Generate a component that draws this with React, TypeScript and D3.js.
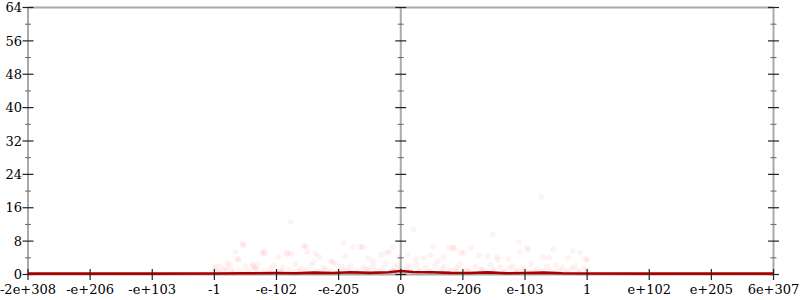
import React from "react";
import * as d3 from "d3";

// x positions are in "tick units" along the ordinal float axis (0 = -2e+308, 6 = 0, 12 = 6e+307)
const xTickLabels = ["-2e+308", "-e+206", "-e+103", "-1", "-e-102", "-e-205", "0", "e-206", "e-103", "1", "e+102", "e+205", "6e+307"];
const yMajorTicks = [0, 8, 16, 24, 32, 40, 48, 56, 64];
const yMinorTicks = [4, 12, 20, 28, 36, 44, 52, 60];

// scattered sample errors (bits)
const scatterX = [
  3.02, 3.21, 3.34, 3.37, 3.39, 3.45, 3.47, 3.61, 3.63, 3.77, 3.79, 3.82, 4.03, 4.16, 4.18, 4.23, 4.24, 4.44, 4.47, 4.5,
  4.6, 4.63, 4.69, 4.87, 4.9, 5.08, 5.11, 5.23, 5.35, 5.39, 5.48, 5.56, 5.68, 5.76, 5.81, 5.87, 5.97,
  6.11, 6.21, 6.24, 6.37, 6.48, 6.52, 6.6, 6.69, 6.77, 6.84, 6.86, 6.97, 7.02, 7.13, 7.26, 7.4, 7.48, 7.55, 7.56, 7.73,
  7.9, 7.92, 8.03, 8.05, 8.26, 8.29, 8.39, 8.45, 8.69, 8.77, 8.89, 8.97, 9.0,
  3.0, 3.05, 3.1, 3.15, 3.2, 3.25, 3.3, 3.4, 3.5, 3.55, 3.65, 3.7, 3.8, 3.9, 3.95, 4.05, 4.1, 4.2, 4.3, 4.35, 4.4,
  4.55, 4.65, 4.75, 4.8, 4.95, 5.0, 5.05, 5.15, 5.2, 5.3, 5.4, 5.45, 5.55, 5.6, 5.7, 5.75, 5.85, 5.9, 5.95, 6.0,
  6.05, 6.1, 6.15, 6.25, 6.3, 6.4, 6.45, 6.55, 6.65, 6.7, 6.8, 6.9, 6.95, 7.05, 7.1, 7.2, 7.3, 7.35, 7.45, 7.5,
  7.6, 7.65, 7.75, 7.8, 7.85, 7.95, 8.0, 8.1, 8.15, 8.2, 8.35, 8.4, 8.5, 8.55, 8.6, 8.65, 8.75, 8.8, 8.85, 8.95, 9.0,
  3.08, 3.28, 3.48, 3.68, 3.88, 4.08, 4.28, 4.48, 4.68, 4.88, 5.08, 5.28, 5.48, 5.68, 5.88, 6.08, 6.28, 6.48, 6.68,
  6.88, 7.08, 7.28, 7.48, 7.68, 7.88, 8.08, 8.28, 8.48, 8.68, 8.88,
];
const scatterBits = [
  2.0, 2.8, 5.4, 3.7, 3.6, 7.3, 7.0, 2.3, 2.0, 5.0, 5.6, 5.0, 4.2, 4.9, 5.2, 12.6, 4.9, 6.8, 6.8, 5.4,
  3.0, 4.9, 4.2, 3.2, 3.0, 7.6, 4.4, 6.6, 6.6, 6.6, 4.0, 3.2, 4.7, 5.2, 5.4, 6.6, 4.2,
  4.7, 10.7, 3.7, 4.0, 4.7, 6.8, 3.2, 4.2, 6.4, 6.4, 6.3, 5.2, 5.2, 6.4, 4.7, 4.4, 9.5, 4.2, 3.5, 3.7,
  7.8, 5.4, 6.4, 5.9, 18.6, 4.2, 4.0, 6.1, 4.0, 5.6, 5.2, 3.7, 3.5,
  1.2, 0.6, 1.8, 0.9, 1.4, 2.2, 0.5, 1.1, 1.9, 0.7, 1.5, 2.4, 0.8, 1.3, 2.1, 0.6, 1.7, 1.0, 2.5, 0.9, 1.4,
  2.2, 0.7, 1.6, 1.1, 2.6, 0.8, 1.9, 1.3, 2.3, 0.6, 1.8, 1.2, 2.0, 0.9, 1.5, 2.7, 1.0, 1.7, 2.3, 1.4,
  0.8, 2.1, 1.5, 2.4, 1.0, 1.7, 0.6, 2.2, 1.3, 1.9, 0.9, 1.6, 2.5, 1.1, 0.7, 2.0, 1.4, 0.8, 2.3, 1.2,
  1.8, 0.6, 1.5, 2.1, 0.9, 1.6, 1.1, 2.4, 0.7, 1.3, 1.9, 0.8, 2.2, 1.0, 1.7, 0.6, 1.4, 2.0, 0.9, 1.5, 1.1,
  0.4, 0.9, 0.5, 1.2, 0.4, 0.8, 0.5, 1.0, 0.4, 0.7, 0.9, 0.5, 1.1, 0.4, 0.8, 1.0, 0.5, 0.7, 0.4,
  0.9, 0.5, 1.0, 0.4, 0.6, 0.8, 0.5, 0.9, 0.4, 0.7, 0.5,
];

// average error line
const lineX = [0, 1, 2, 3, 3.5, 4, 4.3, 4.6, 4.9, 5.2, 5.5, 5.8, 6.0, 6.2, 6.5, 6.8, 7.1, 7.4, 7.7, 8.0, 8.3, 8.6, 9.0, 10, 11, 12];
const lineBits = [0.2, 0.2, 0.2, 0.25, 0.3, 0.35, 0.3, 0.45, 0.35, 0.55, 0.4, 0.55, 0.85, 0.6, 0.55, 0.4, 0.35, 0.5, 0.3, 0.35, 0.45, 0.3, 0.25, 0.2, 0.2, 0.2];

export default function App() {
  const W = 800, H = 300;
  const x = d3.scaleLinear().domain([0, 12]).range([28, 773.5]);
  const y = d3.scaleLinear().domain([0, 64]).range([274.5, 7.5]);
  const xMid = x(6);
  const line = d3.line<number>().x((_, i) => x(lineX[i])).y((d) => y(d));
  const font = "'DejaVu Serif', serif";
  const axisGray = "#aaaaaa";
  const axes = [x(0), xMid, x(12)];
  return (
    <svg width={W} height={H} style={{ position: "absolute", left: 0, top: 0, background: "#fff" }}>
      {/* frame lines */}
      <line x1={x(0)} x2={x(12)} y1={y(64)} y2={y(64)} stroke={axisGray} strokeWidth={2} />
      <line x1={x(0)} x2={x(12)} y1={y(0)} y2={y(0)} stroke={axisGray} strokeWidth={2} />
      {axes.map((ax, i) => (
        <line key={"ax" + i} x1={ax} x2={ax} y1={y(64)} y2={y(0)} stroke={axisGray} strokeWidth={2} />
      ))}
      {/* y ticks on each vertical axis */}
      {axes.map((ax, i) => (
        <g key={"yt" + i}>
          {yMajorTicks.map((t) => (
            <line key={"M" + t} x1={ax - 5.5} x2={ax + 5.5} y1={y(t)} y2={y(t)} stroke="#222" strokeWidth={1.2} />
          ))}
          {yMinorTicks.map((t) => (
            <line key={"m" + t} x1={ax - 3} x2={ax + 3} y1={y(t)} y2={y(t)} stroke="#666" strokeWidth={1} />
          ))}
        </g>
      ))}
      {/* y labels */}
      {yMajorTicks.map((t) => (
        <text key={"yl" + t} x={22} y={y(t)} dy="0.36em" textAnchor="end" fontFamily={font} fontSize={13} fill="#000">
          {t}
        </text>
      ))}
      {/* scatter */}
      <g>
        {scatterX.map((sx, i) => (
          <circle key={"p" + i} cx={x(sx)} cy={y(scatterBits[i])} r={3} fill="#ff0000" fillOpacity={0.05} />
        ))}
      </g>
      {/* average line */}
      <path d={line(lineBits) || ""} fill="none" stroke="#aa0000" strokeWidth={2.6} strokeLinejoin="round" />
      {/* x ticks */}
      {xTickLabels.map((lab, i) => (
        <g key={"xt" + i}>
          <line x1={x(i)} x2={x(i)} y1={y(0) - 5.5} y2={y(0) + 5.5} stroke="#222" strokeWidth={1.2} />
          <text x={x(i)} y={294} textAnchor="middle" fontFamily={font} fontSize={13} fill="#000">
            {lab}
          </text>
        </g>
      ))}
    </svg>
  );
}
